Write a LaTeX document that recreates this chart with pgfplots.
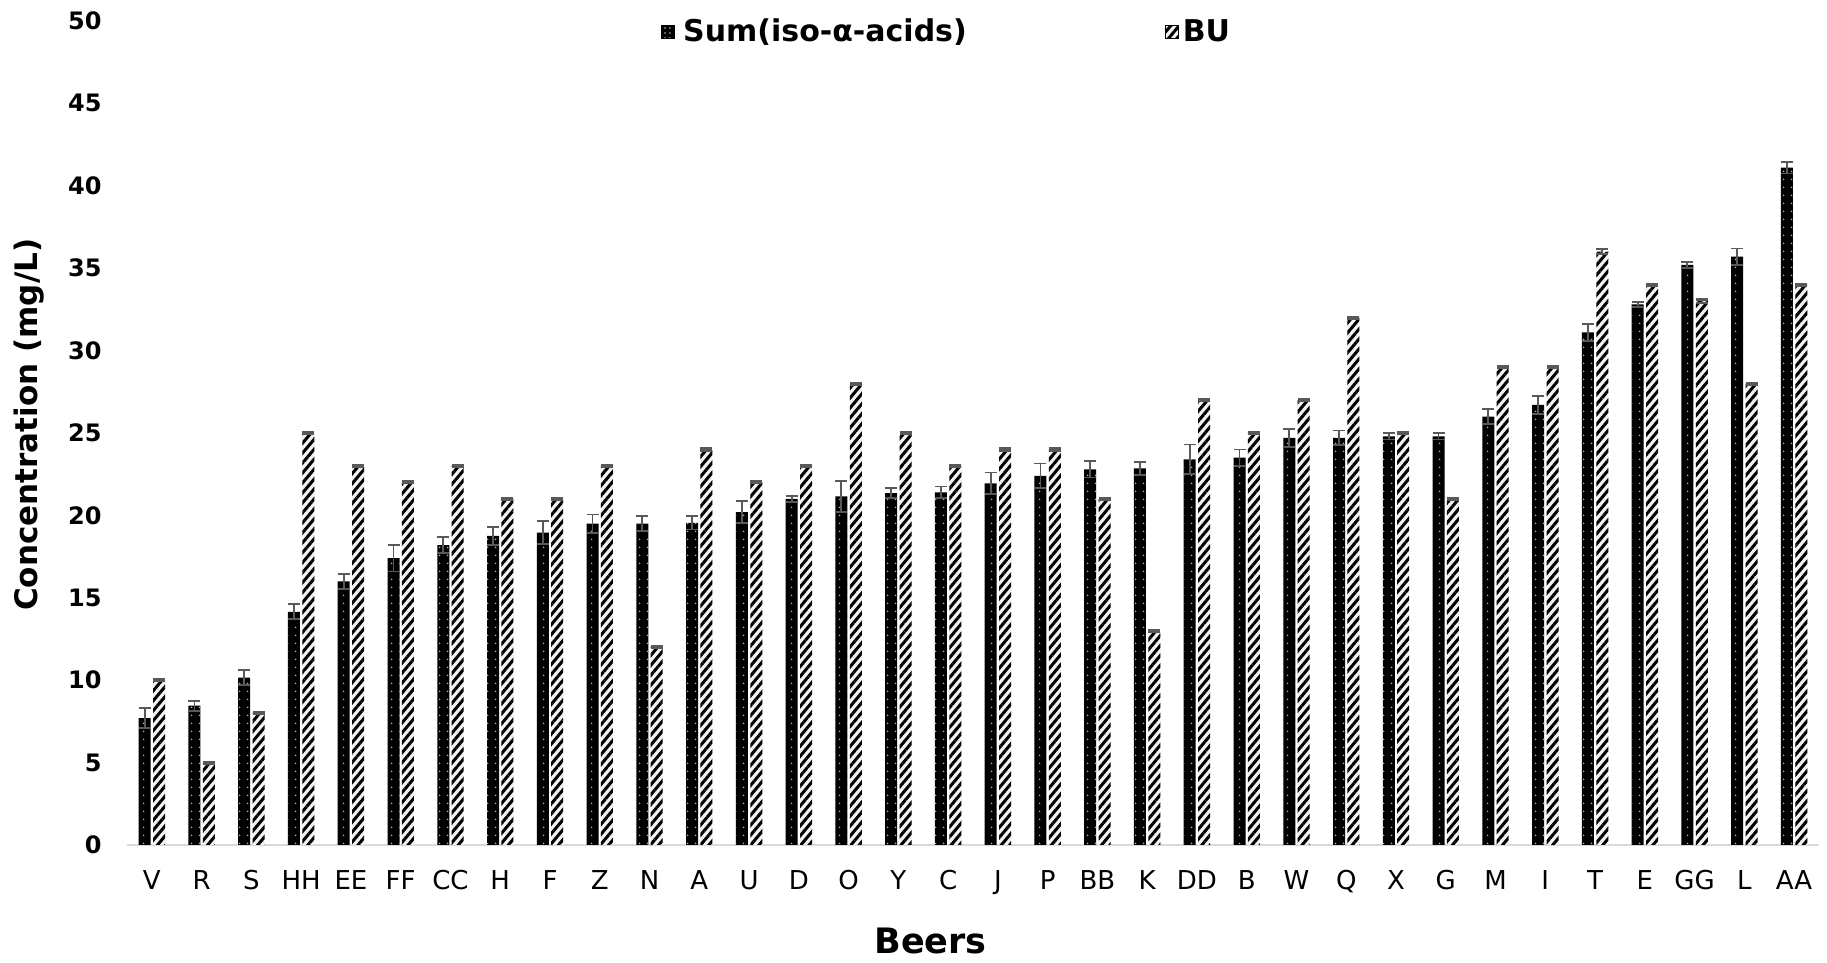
\documentclass[border=0pt]{standalone}
\usepackage{pgfplots}
\pgfplotsset{compat=1.18}
\usepackage{pgfplotstable}
\usetikzlibrary{patterns.meta}
\usepackage{fontspec}
\setmainfont{DejaVu Sans}
\definecolor{errgray}{HTML}{595959}
\definecolor{axgray}{HTML}{D9D9D9}
\definecolor{stripebg}{HTML}{F2F2F2}
\definecolor{dotgray}{HTML}{BFBFBF}

\pgfplotstableread{
x name sum sumerr bu buerr
0 V 7.7 0.6 10 0.05
1 R 8.45 0.3 5 0.05
2 S 10.15 0.45 8 0.05
3 HH 14.15 0.45 25 0.05
4 EE 16.0 0.45 23 0.05
5 FF 17.4 0.8 22 0.05
6 CC 18.2 0.5 23 0.05
7 H 18.75 0.55 21 0.05
8 F 18.95 0.7 21 0.05
9 Z 19.5 0.55 23 0.05
10 N 19.5 0.45 12 0.05
11 A 19.55 0.4 24 0.05
12 U 20.2 0.65 22 0.05
13 D 21.0 0.2 23 0.05
14 O 21.15 0.95 28 0.05
15 Y 21.35 0.3 25 0.05
16 C 21.4 0.35 23 0.05
17 J 21.95 0.65 24 0.05
18 P 22.4 0.75 24 0.05
19 BB 22.8 0.5 21 0.05
20 K 22.85 0.4 13 0.05
21 DD 23.4 0.9 27 0.05
22 B 23.5 0.5 25 0.05
23 W 24.7 0.55 27 0.05
24 Q 24.7 0.45 32 0.05
25 X 24.8 0.2 25 0.05
26 G 24.8 0.2 21 0.05
27 M 26.0 0.45 29 0.05
28 I 26.7 0.55 29 0.05
29 T 31.1 0.5 36 0.15
30 E 32.8 0.15 34 0.05
31 GG 35.2 0.2 33 0.1
32 L 35.7 0.5 28 0.05
33 AA 41.1 0.35 34 0.05
}\data

\begin{document}
\begin{tikzpicture}
\begin{axis}[
  scale only axis, width=846pt, height=412pt,
  ybar, bar width=6pt,
  xmin=-0.5, xmax=33.5, ymin=0, ymax=50,
  xtick={0,...,33},
  xticklabels={V,R,S,HH,EE,FF,CC,H,F,Z,N,A,U,D,O,Y,C,J,P,BB,K,DD,B,W,Q,X,G,M,I,T,E,GG,L,AA},
  ytick={0,5,...,50},
  axis x line*=bottom, axis y line*=left,
  x axis line style={draw=axgray, line width=1.2pt},
  y axis line style={draw=none},
  major tick length=0pt,
  tick style={draw=none},
  xticklabel style={font=\fontsize{13}{13}\selectfont, anchor=north, inner sep=0pt, yshift=-12.5pt},
  yticklabel style={font=\bfseries\fontsize{12}{12}\selectfont, anchor=east, inner sep=0pt, xshift=-12.5pt, /pgf/number format/assume math mode=true},
  xlabel={Beers}, ylabel={Concentration (mg/L)},
  xlabel style={font=\bfseries\fontsize{17.5}{17.5}\selectfont, at={(axis description cs:0.475,0)}, anchor=center, yshift=-48pt},
  ylabel style={font=\bfseries\fontsize{15.5}{15.5}\selectfont, at={(axis description cs:-0.0579,0.51)}, anchor=center},
  legend style={draw=none, fill=none, font=\bfseries\fontsize{15}{15}\selectfont, at={(rel axis cs:0.3155,0.987)}, anchor=west, inner sep=0pt, /tikz/every even column/.append style={column sep=97pt}},
  legend columns=2,
  clip=false,
]
\addplot[forget plot, bar shift=-3.6pt, fill=black, draw=none,
  postaction={pattern={Dots[distance=4pt,radius=0.45pt]}, pattern color=dotgray},
  error bars/.cd, y dir=both, y explicit,
  error bar style={draw=errgray, line width=0.9pt},
  error mark options={rotate=90, draw=errgray, line width=0.9pt, mark size=3pt}]
  table[x=x, y=sum, y error=sumerr]{\data};
\addplot[forget plot, bar shift=3.6pt, fill=stripebg, draw=none,
  postaction={pattern={Lines[angle=50,distance=3.2pt,line width=1.5pt]}, pattern color=black},
  error bars/.cd, y dir=both, y explicit,
  error bar style={draw=errgray, line width=0.9pt},
  error mark options={rotate=90, draw=errgray, line width=1.2pt, mark size=3pt}]
  table[x=x, y=bu, y error=buerr]{\data};
\addlegendimage{legend image code/.code={\path[fill=black, postaction={pattern={Dots[distance=2.5pt,radius=0.45pt]}, pattern color=dotgray}] (0pt,-3.3pt) rectangle (6.6pt,3.3pt);}}
\addlegendentry{\hspace{2pt}Sum(iso-α-acids)}
\addlegendimage{legend image code/.code={\path[fill=stripebg, postaction={pattern={Lines[angle=50,distance=3.2pt,line width=1.5pt]}, pattern color=black}] (0pt,-3.3pt) rectangle (6.6pt,3.3pt);}}
\addlegendentry{BU}
\coordinate (bbsw) at (rel axis cs:-0.07506,-0.1432);
\coordinate (bbne) at (rel axis cs:1.00473,1.02549);
\end{axis}
\pgfresetboundingbox
\path[use as bounding box] (bbsw) rectangle (bbne);
\end{tikzpicture}
\end{document}
